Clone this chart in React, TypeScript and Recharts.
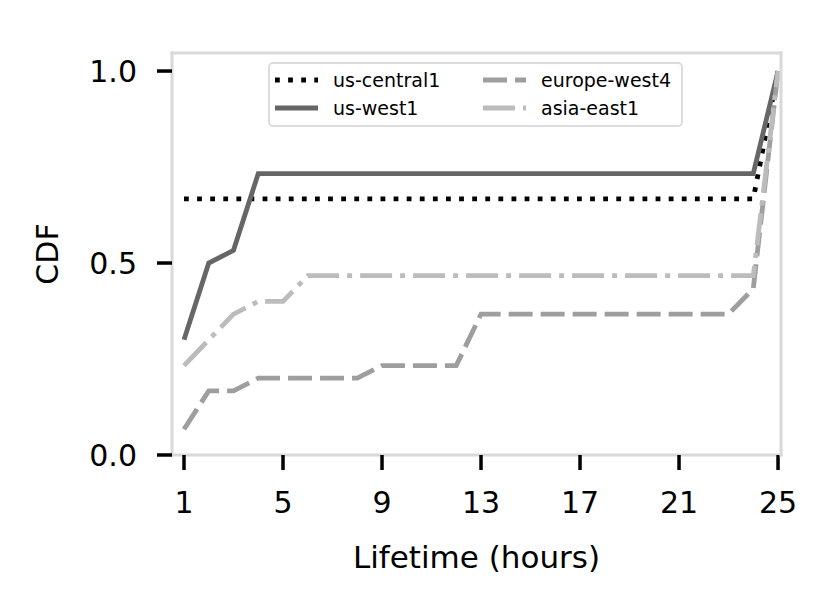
import { Legend, Line, LineChart, XAxis, YAxis } from "recharts";

// lifetime in hours (x) and the CDF value of each region at that hour
const hours = [1, 2, 3, 4, 5, 6, 7, 8, 9, 10, 11, 12, 13, 14, 15, 16, 17, 18, 19, 20, 21, 22, 23, 24, 25];

const usCentral1 = [
  0.667, 0.667, 0.667, 0.667, 0.667, 0.667, 0.667, 0.667, 0.667, 0.667, 0.667, 0.667, 0.667,
  0.667, 0.667, 0.667, 0.667, 0.667, 0.667, 0.667, 0.667, 0.667, 0.667, 0.667, 1.0,
];
const usWest1 = [
  0.3, 0.5, 0.533, 0.733, 0.733, 0.733, 0.733, 0.733, 0.733, 0.733, 0.733, 0.733, 0.733,
  0.733, 0.733, 0.733, 0.733, 0.733, 0.733, 0.733, 0.733, 0.733, 0.733, 0.733, 1.0,
];
const europeWest4 = [
  0.067, 0.167, 0.167, 0.2, 0.2, 0.2, 0.2, 0.2, 0.233, 0.233, 0.233, 0.233, 0.367,
  0.367, 0.367, 0.367, 0.367, 0.367, 0.367, 0.367, 0.367, 0.367, 0.367, 0.433, 1.0,
];
const asiaEast1 = [
  0.233, 0.3, 0.367, 0.4, 0.4, 0.467, 0.467, 0.467, 0.467, 0.467, 0.467, 0.467, 0.467,
  0.467, 0.467, 0.467, 0.467, 0.467, 0.467, 0.467, 0.467, 0.467, 0.467, 0.467, 1.0,
];

const xTicks = [1, 5, 9, 13, 17, 21, 25];
const yTicks = [0, 0.5, 1.0];

const series = [
  { key: "usCentral1", name: "us-central1", color: "#000000", dash: "4.8 8.3" },
  { key: "usWest1", name: "us-west1", color: "#666666", dash: undefined },
  { key: "europeWest4", name: "europe-west4", color: "#9e9e9e", dash: "24 8" },
  { key: "asiaEast1", name: "asia-east1", color: "#bcbcbc", dash: "32 8 5 8" },
];

const data = hours.map((h, i) => ({
  hour: h,
  usCentral1: usCentral1[i],
  usWest1: usWest1[i],
  europeWest4: europeWest4[i],
  asiaEast1: asiaEast1[i],
}));

const FONT = "'DejaVu Sans', sans-serif";
const LINE_W = 4.8;
const FRAME = { stroke: "#d9d9d9", strokeWidth: 3, strokeLinecap: "square" as const };
const TICK_LINE = { stroke: "#000000", strokeWidth: 3.5 };

function LegendBox() {
  return (
    <div
      style={{
        boxSizing: "border-box",
        width: 415,
        height: 65,
        border: "2px solid #dddddd",
        borderRadius: 5,
        background: "rgba(255,255,255,0.8)",
        padding: "2px 0 0 5px",
        display: "grid",
        gridTemplateColumns: "208px auto",
        gridTemplateRows: "28px 28px",
        gridAutoFlow: "column",
        fontFamily: FONT,
        fontSize: 19,
        color: "#000",
      }}
    >
      {series.map((s) => (
        <div key={s.key} style={{ display: "flex", alignItems: "center" }}>
          <svg width={43} height={6} style={{ display: "block" }}>
            <line x1={0} x2={43} y1={3} y2={3} stroke={s.color} strokeWidth={LINE_W} strokeDasharray={s.dash} />
          </svg>
          <span style={{ marginLeft: 15, lineHeight: "28px" }}>{s.name}</span>
        </div>
      ))}
    </div>
  );
}

export default function App() {
  return (
    <div style={{ position: "absolute", left: 0, top: 0, background: "#fff" }}>
      <LineChart width={833} height={608} data={data} margin={{ top: 52, right: 50, bottom: 0, left: 0 }}>
        <XAxis
          dataKey="hour"
          type="number"
          domain={[0.515, 25.12]}
          ticks={xTicks}
          interval={0}
          height={153}
          axisLine={FRAME}
          tickLine={TICK_LINE}
          tickSize={15}
          tickMargin={22}
          tick={{ fill: "#000", fontSize: 30, fontFamily: FONT }}
          label={{ value: "Lifetime (hours)", position: "insideBottom", offset: 40, fill: "#000", fontSize: 31, fontFamily: FONT }}
        />
        <XAxis xAxisId="top" orientation="top" type="number" domain={[0.515, 25.12]} height={1} axisLine={FRAME} tick={false} tickLine={false} />
        <YAxis
          type="number"
          domain={[0, 1.047]}
          ticks={yTicks}
          interval={0}
          width={172}
          axisLine={FRAME}
          tickLine={TICK_LINE}
          tickSize={15}
          tickMargin={20}
          tickFormatter={(v: number) => v.toFixed(1)}
          tick={{ fill: "#000", fontSize: 30, fontFamily: FONT }}
          label={{ value: "CDF", angle: -90, position: "insideLeft", offset: 47, fill: "#000", fontSize: 30, fontFamily: FONT, style: { textAnchor: "middle" } }}
        />
        <YAxis yAxisId="right" orientation="right" type="number" domain={[0, 1.047]} width={2} axisLine={FRAME} tick={false} tickLine={false} />
        <Legend
          layout="horizontal"
          verticalAlign="middle"
          align="center"
          content={() => <LegendBox />}
          wrapperStyle={{ left: 268, top: 62, width: 415 }}
        />
        {series.map((s) => (
          <Line
            key={s.key}
            type="linear"
            dataKey={s.key}
            name={s.name}
            stroke={s.color}
            strokeWidth={LINE_W}
            strokeDasharray={s.dash}
            dot={false}
            activeDot={false}
            isAnimationActive={false}
          />
        ))}
      </LineChart>
    </div>
  );
}
